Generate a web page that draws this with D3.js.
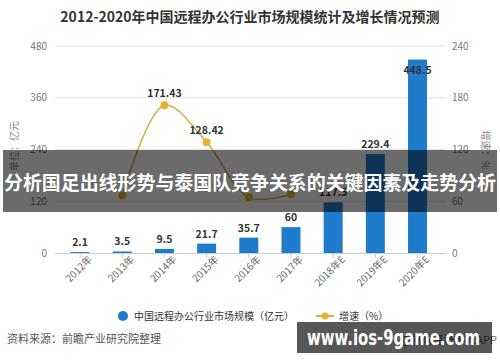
<!DOCTYPE html>
<html><head><meta charset="utf-8">
<script src="https://cdn.jsdelivr.net/npm/d3@7"></script>
<style>body{margin:0;background:#fff;}svg{display:block;font-family:"Noto Sans CJK SC","Noto Sans",sans-serif;}</style>
</head><body>
<script>
const categories = ["2012年","2013年","2014年","2015年","2016年","2017年","2018年E","2019年E","2020年E"];
const marketSize = [2.1, 3.5, 9.5, 21.7, 35.7, 60, 117.5, 229.4, 448.5];
const growth = [null, 66.67, 171.43, 128.42, 64.5, 68.07, null, null, null];
const growthLabelShown = [false, false, true, true, false, false, false, false, false];
const leftTicks = [0, 120, 240, 360, 480];
const rightTicks = [0, 60, 120, 180, 240];
const title = "2012-2020年中国远程办公行业市场规模统计及增长情况预测";
const legendLabels = ["中国远程办公行业市场规模（亿元）", "增速（%）"];
const leftAxisTitle = "单位：亿元";
const rightAxisTitle = "增速：%";
const sourceText = "资料来源：前瞻产业研究院整理";
const creditText = "@前瞻经济学人APP";
const bannerText = "分析国足出线形势与泰国队竞争关系的关键因素及走势分析";
const watermarkText = "www.ios-9game.com";

const W = 500, H = 362;
const svg = d3.select("body").append("svg").attr("width", W).attr("height", H);
const barColor = "#1f7bcc", lineColor = "#d4ae3a", dotColor = "#e4b42e";

const x = d3.scaleBand().domain(categories).range([59, 438.6]).paddingInner(0.55).paddingOuter(0.275);
const yL = d3.scaleLinear().domain([0, 480]).range([253, 46]);
const yR = d3.scaleLinear().domain([0, 240]).range([253, 46]);

svg.append("text").attr("x", 250).attr("y", 22).attr("text-anchor", "middle")
  .attr("font-size", 14).attr("font-weight", "bold").attr("fill", "#333").text(title);

// grid
svg.append("g").selectAll("line").data(leftTicks.slice(1)).join("line")
  .attr("x1", 55).attr("x2", 446).attr("y1", d => yL(d)).attr("y2", d => yL(d))
  .attr("stroke", "#e2e2e2").attr("stroke-width", 1);

// left axis labels
const gl = svg.append("g").attr("transform", "translate(53,0)")
  .call(d3.axisLeft(yL).tickValues(leftTicks).tickSize(0).tickPadding(6));
gl.select(".domain").remove();
gl.selectAll("text").attr("font-size", 10).attr("fill", "#777").attr("font-family", "Noto Sans CJK SC, sans-serif");

const gr = svg.append("g").attr("transform", "translate(446,0)")
  .call(d3.axisRight(yR).tickValues(rightTicks).tickSize(0).tickPadding(6));
gr.select(".domain").remove();
gr.selectAll("text").attr("font-size", 10).attr("fill", "#777").attr("font-family", "Noto Sans CJK SC, sans-serif");

svg.append("text").attr("transform", "translate(18,146) rotate(-90)").attr("text-anchor", "middle")
  .attr("font-size", 10).attr("fill", "#888").text(leftAxisTitle);
svg.append("text").attr("transform", "translate(482,150) rotate(90)").attr("text-anchor", "middle")
  .attr("font-size", 10).attr("fill", "#888").text(rightAxisTitle);

// bars
svg.append("g").selectAll("rect").data(marketSize).join("rect")
  .attr("x", (d, i) => x(categories[i])).attr("width", x.bandwidth())
  .attr("y", d => yL(d)).attr("height", d => yL(0) - yL(d)).attr("fill", barColor);

// x axis
const gx = svg.append("g").attr("transform", "translate(0,253)")
  .call(d3.axisBottom(x).tickSize(5).tickPadding(3));
gx.select(".domain").attr("d", "M55,0.5H446").attr("stroke", "#ccc");
gx.selectAll(".tick line").attr("stroke", "#ccc");
gx.selectAll("text").attr("font-size", 10).attr("fill", "#666").attr("font-family", "Noto Sans CJK SC, sans-serif")
  .attr("text-anchor", "end").attr("dx", "4").attr("dy", "6").attr("transform", "rotate(-45)");

// bar labels (label placed inside the bar when it would reach the top grid line)
svg.append("g").selectAll("text").data(marketSize).join("text")
  .attr("x", (d, i) => x(categories[i]) + x.bandwidth() / 2)
  .attr("y", d => (yL(d) - 6 < yL(420)) ? yL(d) + 14 : yL(d) - 6)
  .attr("text-anchor", "middle").attr("font-size", 10.5).attr("font-weight", "bold").attr("fill", "#333")
  .text(d => d);

// growth line
const pts = growth.map((g, i) => ({ c: categories[i], g, show: growthLabelShown[i] })).filter(p => p.g !== null);
const line = d3.line().x(p => x(p.c) + x.bandwidth() / 2).y(p => yR(p.g)).curve(d3.curveCatmullRom.alpha(0.5));
svg.append("path").datum(pts).attr("d", line).attr("fill", "none").attr("stroke", lineColor).attr("stroke-width", 1.5);
svg.append("g").selectAll("circle").data(pts).join("circle")
  .attr("cx", p => x(p.c) + x.bandwidth() / 2).attr("cy", p => yR(p.g)).attr("r", 4).attr("fill", dotColor);
svg.append("g").selectAll("text").data(pts.filter(p => p.show)).join("text")
  .attr("x", p => x(p.c) + x.bandwidth() / 2).attr("y", p => yR(p.g) - 8)
  .attr("text-anchor", "middle").attr("font-size", 10.5).attr("font-weight", "bold").attr("fill", "#333")
  .text(p => p.g);

// legend
svg.append("circle").attr("cx", 123).attr("cy", 316).attr("r", 5).attr("fill", barColor);
svg.append("text").attr("x", 134).attr("y", 320).attr("font-size", 10).attr("fill", "#333").text(legendLabels[0]);
svg.append("line").attr("x1", 316).attr("x2", 334).attr("y1", 316).attr("y2", 316).attr("stroke", lineColor).attr("stroke-width", 2);
svg.append("circle").attr("cx", 325).attr("cy", 316).attr("r", 3.5).attr("fill", dotColor);
svg.append("text").attr("x", 339).attr("y", 320).attr("font-size", 10).attr("fill", "#333").text(legendLabels[1]);

// source
svg.append("text").attr("x", 7).attr("y", 343).attr("font-size", 11).attr("fill", "#555").text(sourceText);
svg.append("text").attr("x", 497).attr("y", 344).attr("text-anchor", "end").attr("font-size", 11).attr("fill", "#666").text(creditText);

// banner overlay
svg.append("rect").attr("x", 3).attr("y", 150).attr("width", 494).attr("height", 62).attr("fill", "rgba(0,0,0,0.58)");
svg.append("text").attr("x", 250).attr("y", 190).attr("text-anchor", "middle").attr("font-size", 19)
  .attr("font-weight", "bold").attr("fill", "#fff").attr("textLength", 492).attr("lengthAdjust", "spacingAndGlyphs").text(bannerText);

// watermark box
svg.append("rect").attr("x", 297).attr("y", 322).attr("width", 195).attr("height", 31).attr("fill", "rgba(0,0,0,0.66)");
svg.append("text").attr("x", 307).attr("y", 345).attr("font-size", 21).attr("font-weight", "bold")
  .attr("fill", "#fff").attr("font-family", "DejaVu Sans, sans-serif").attr("textLength", 173).attr("lengthAdjust", "spacingAndGlyphs").text(watermarkText);
</script>
</body></html>
